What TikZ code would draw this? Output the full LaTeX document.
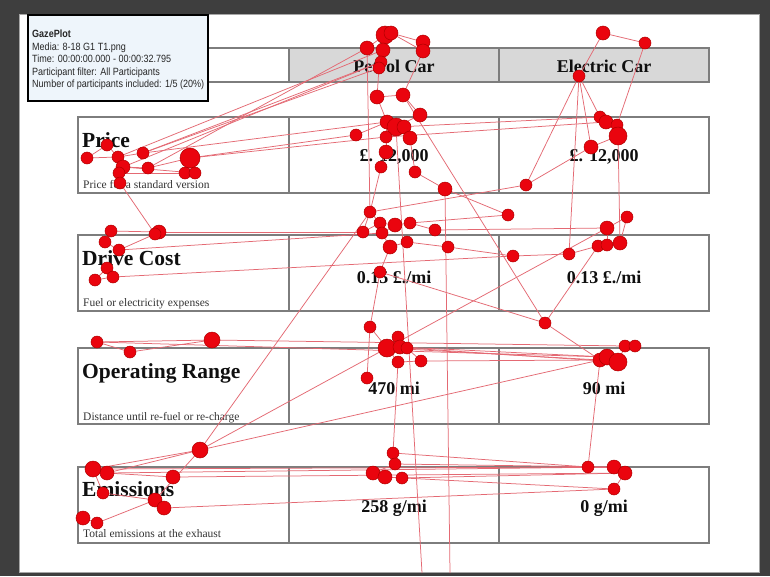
\documentclass[tikz,border=0pt]{standalone}
\usepackage{fontspec}
\usepackage{graphicx}
\setmainfont{Liberation Serif}
\newfontfamily\uisans{Liberation Sans}
\definecolor{fixred}{RGB}{234,4,14}
\definecolor{fixedge}{RGB}{175,0,0}
\definecolor{sacc}{RGB}{228,105,115}
\definecolor{framegray}{RGB}{62,62,62}
\definecolor{cellgray}{RGB}{216,216,216}
\definecolor{linegray}{RGB}{125,125,125}
\definecolor{tipfill}{RGB}{238,245,251}
\definecolor{inktext}{RGB}{15,15,15}
\pgfdeclarelayer{bg}
\pgfdeclarelayer{mid}
\pgfdeclarelayer{top}
\pgfsetlayers{bg,mid,main,top}
\begin{document}
\begin{tikzpicture}[x=1pt,y=-1pt,
  fix/.style={circle,inner sep=0pt,fill=fixred,draw=fixedge,line width=0.5pt},
  sac/.style={draw=sacc,line width=0.75pt},
  cell/.style={draw=linegray,line width=1.4pt},
  hcell/.style={draw=linegray,line width=1.4pt,fill=cellgray},
  ttl/.style={anchor=base west,inner sep=0pt,text=inktext,font=\fontsize{21.5}{22}\selectfont\bfseries},
  sub/.style={anchor=base west,inner sep=0pt,text=inktext!85,font=\fontsize{11.5}{12}\selectfont},
  val/.style={anchor=center,inner sep=0pt,text=inktext,font=\fontsize{18}{18}\selectfont\bfseries},
  tip/.style={anchor=base west,inner sep=0pt,text=black!85,font=\uisans\fontsize{10.5}{12}\selectfont}]
\useasboundingbox (0,0) rectangle (770,576);

% ---------------- frame and table ----------------
\begin{pgfonlayer}{bg}
\fill[framegray] (0,0) rectangle (770,576);
\fill[white] (19,14) rectangle (760,573);
\draw[black!35,line width=1pt] (19.5,14.5) rectangle (759.5,572.5);
% header row
\draw[cell] (78,48) rectangle (289,82);
\draw[hcell] (289,48) rectangle (499,82);
\draw[hcell] (499,48) rectangle (709,82);
\node[val] (hpetrol) at (394,66) {Petrol Car};
\node[val] (helec) at (604,66) {Electric Car};
% rows
\foreach \t in {117,235,348,467}{
  \draw[cell] (78,\t) rectangle (709,\t+76);
  \draw[cell] (289,\t) -- (289,\t+76);
  \draw[cell] (499,\t) -- (499,\t+76);
}
\node[ttl] (tprice) at (82,147) {Price};
\node[sub] (sprice) at (83,188) {Price for a standard version};
\node[val] (vp1) at (394,157) {£. 12,000};
\node[val] (ve1) at (604,157) {£. 12,000};
\node[ttl] (tdrive) at (82,265) {Drive Cost};
\node[sub] (sdrive) at (83,306) {Fuel or electricity expenses};
\node[val] (vp2) at (394,277) {0.15 £./mi};
\node[val] (ve2) at (604,277) {0.13 £./mi};
\node[ttl] (trange) at (82,378) {Operating Range};
\node[sub] (srange) at (83,420) {Distance until re-fuel or re-charge};
\node[val] (vp3) at (394,388) {470 mi};
\node[val] (ve3) at (604,388) {90 mi};
\node[ttl] (temis) at (82,496) {Emissions};
\node[sub] (semis) at (83,537) {Total emissions at the exhaust};
\node[val] (vp4) at (394,508) {258 g/mi};
\node[val] (ve4) at (604,508) {0 g/mi};
\end{pgfonlayer}

% ---------------- fixations ----------------
\foreach \n/\x/\y/\r in {
 t1/385/35/9, t2/391/33/7, t3/367/48/7, t4/383/50/7, t5/423/42/7, t6/423/51/7, t7/381/62/6, t8/379/68/6, t9/377/97/7, t10/403/95/7,
 e1/603/33/7, e2/645/43/6, e3/579/76/6,
 p1/87/158/6, p2/107/145/6, p3/118/157/6, p4/123/167/7, p5/119/173/6, p6/120/183/6, p7/143/153/6, p8/148/168/6, p9/190/158/10, p10/185/173/6, p11/195/173/6,
 q1/356/135/6, q2/420/115/7, q3/387/122/7, q4/396/127/9, q5/404/127/7, q6/386/137/6, q7/410/138/7, q8/386/152/7, q9/381/167/6, q10/415/172/6, q11/445/189/7,
 r1/600/117/6, r2/606/122/7, r3/617/125/6, r4/618/136/9, r5/591/147/7, r6/526/185/6,
 m1/370/212/6, m2/508/215/6, m3/627/217/6,
 d1/111/231/6, d2/105/242/6, d3/119/250/6, d4/159/232/7, d5/155/234/6, d6/107/268/6, d7/95/280/6, d8/113/277/6,
 g1/363/232/6, g2/380/223/6, g3/382/233/6, g4/395/225/7, g5/410/223/6, g6/407/242/6, g7/390/247/7, g8/435/230/6, g9/448/247/6, g10/380/272/6, g11/513/256/6,
 h1/569/254/6, h2/607/228/7, h3/598/246/6, h4/607/245/6, h5/620/243/7,
 k1/545/323/6, k2/370/327/6,
 a1/97/342/6, a2/130/352/6, a3/212/340/8,
 b1/387/348/9, b2/398/337/6, b3/400/347/7, b4/407/348/6, b5/398/362/6, b6/421/361/6, b7/367/378/6,
 c1/600/360/7, c2/607/357/8, c3/618/362/9, c4/625/346/6, c5/635/346/6,
 x1/200/450/8, x2/93/469/8, x3/107/473/7, x4/173/477/7, x5/103/493/6, x6/155/500/7, x7/164/508/7, x8/83/518/7, x9/97/523/6,
 y1/393/453/6, y2/395/464/6, y3/373/473/7, y4/385/477/7, y5/402/478/6,
 z1/588/467/6, z2/614/467/7, z3/625/473/7, z4/614/489/6}
 {\node[fix,minimum size={2*\r pt}] (\n) at (\x,\y) {};}
\coordinate (o1) at (422,573);
\coordinate (o2) at (450,573);

% ---------------- saccades ----------------
\begin{pgfonlayer}{mid}
\foreach \a/\b in {
 t1/t2, t1/t3, t2/t5, t5/t6, t3/t4, t4/t7, t7/t8, t1/t4, t6/t10, t8/t9, t9/t10, t2/t6,
 e1/e2, e1/e3, e2/r3, e3/r5, e3/r6, e3/h1, e3/r1,
 p7/t8, p4/t7, p8/t3, p3/t4, p7/t7,
 p1/p3, p2/p3, p1/p2, p3/p4, p4/p5, p5/p6, p4/p8, p8/p9, p4/p11, p5/p10, p9/p10, p10/p11, p7/p3,
 p7/q3, p9/q1, p9/q6, p6/d5,
 q1/q3, q2/q4, q3/q4, q4/q5, q3/q6, q5/q7, q6/q8, q8/q9, q7/q10, q10/q11, t9/q3, t10/q2, q9/m1,
 q4/r1, q6/r2, q11/m2, q11/o2, q4/o1, t10/k1, t3/m1,
 r1/r2, r2/r3, r3/r4, r4/r5, r5/r6, r6/m1, r4/h5,
 d1/d2, d1/d4, d2/d3, d4/d5, d3/d5, d4/g1, d3/g3, d6/d7, d7/d8, d6/d8, d8/g11,
 g1/g2, g2/g4, g3/g4, g4/g5, g3/g7, g6/g7, g5/g8, g8/h2, g6/g9, g9/g11, g11/h1, h1/h3, h3/h4, h4/h5, h2/h4, h2/m3, m3/h5,
 g7/g10, g10/k1, k1/h3, m1/g2, g5/m2, g1/m1, g10/k2,
 k2/b1, k2/b7, a1/a2, a2/a3, a1/a3, a3/c4, a1/c2,
 b1/b2, b2/b3, b3/b4, b1/b5, b4/b6, b5/b6, b1/c1, b3/c2, b4/c3, b6/c1, c1/c2, c2/c3, c3/c4, c4/c5,
 k1/c1, c1/z1, b5/y1, x1/m1, x1/h2, x1/c1,
 x1/x3, x1/x2, x1/x6, x2/x3, x3/x4, x2/x5, x5/x6, x6/x7, x8/x9, x9/x6,
 x2/z1, x3/z2, x4/z3, x7/z4,
 y1/y2, y2/y3, y3/y4, y4/y5, y1/z1, y2/z2, y5/z3, y4/z4, z1/z2, z2/z3, z3/z4}
 {\draw[sac] (\a.center) -- (\b.center);}
\end{pgfonlayer}

% ---------------- tooltip ----------------
\begin{pgfonlayer}{top}
\draw[fill=tipfill,draw=black,line width=1.8pt] (28,15) rectangle (208,101);
\node[tip] (tip1) at (32,37.5) {\scalebox{0.86}[1]{\bfseries GazePlot}};
\node[tip] (tip2) at (32,50) {\scalebox{0.86}[1]{Media: 8-18 G1 T1.png}};
\node[tip] (tip3) at (32,62.5) {\scalebox{0.86}[1]{Time: 00:00:00.000 - 00:00:32.795}};
\node[tip] (tip4) at (32,75) {\scalebox{0.86}[1]{Participant filter: All Participants}};
\node[tip] (tip5) at (32,87.5) {\scalebox{0.86}[1]{Number of participants included: 1/5 (20\%)}};
\end{pgfonlayer}
\end{tikzpicture}
\end{document}
